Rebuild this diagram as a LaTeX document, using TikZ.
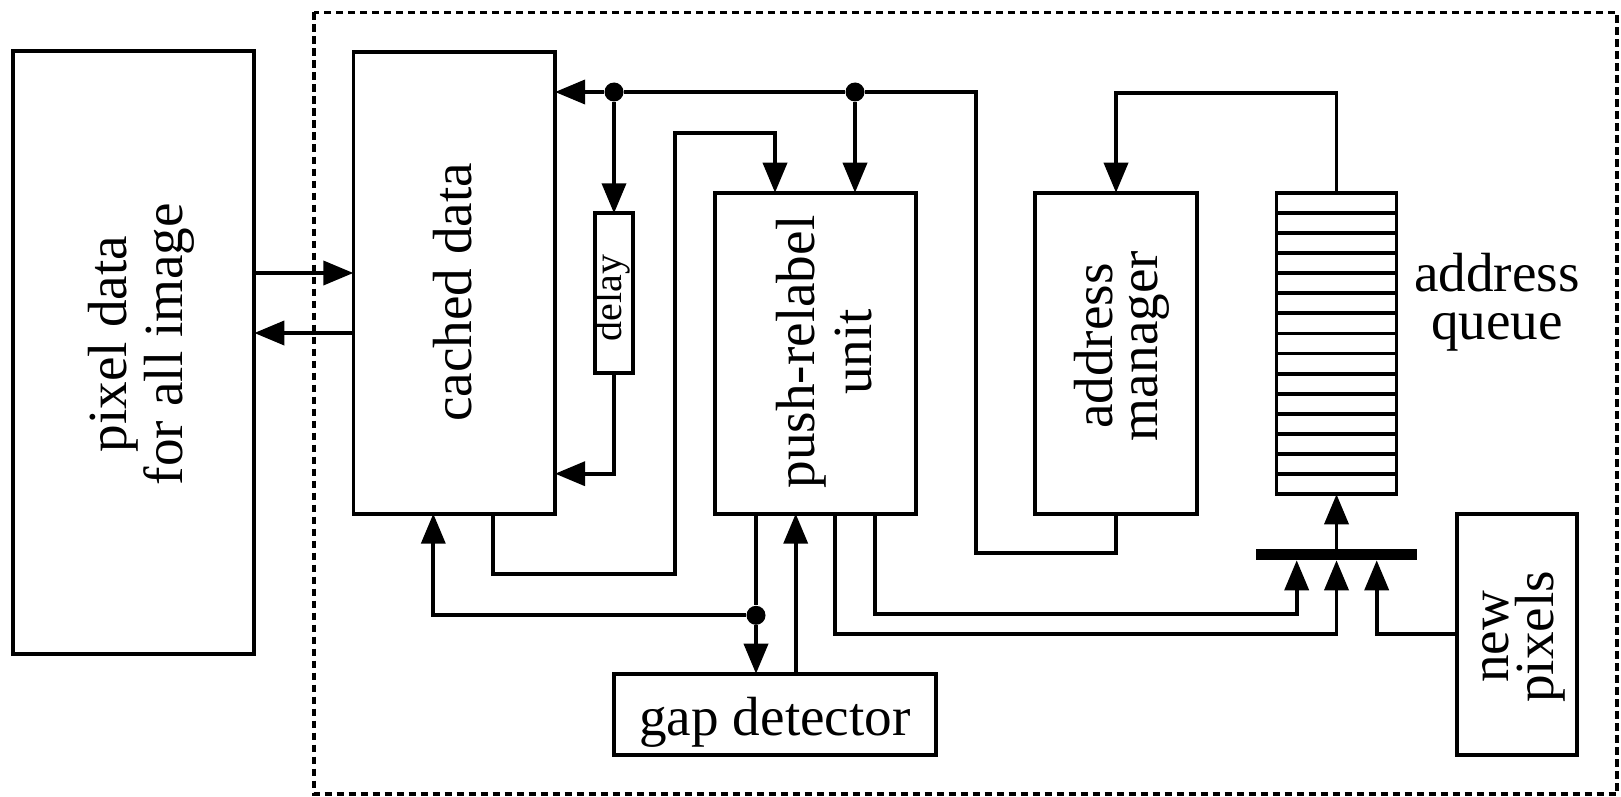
\documentclass[tikz,border=0pt]{standalone}
\usepackage{fontspec}
\setmainfont{Liberation Serif}
\usetikzlibrary{arrows.meta}
\newcommand\lblfont[1]{\fontsize{27.6}{#1}\selectfont}
\begin{document}
\begin{tikzpicture}[x=0.5pt,y=-0.5pt,
  wire/.style={line width=1.85pt},
  arr/.style={wire,-{Triangle[length=15pt,width=12pt]}},
  blk/.style={draw,line width=1.85pt,rectangle,inner sep=0pt,outer sep=0pt},
  lbl/.style={inner sep=0pt,align=center},
  dot/.style={circle,fill,inner sep=0pt,minimum size=9.5pt},
  region/.style={line width=1.8pt,dash pattern=on 3.6pt off 2.4pt}
]
\useasboundingbox (0,0) rectangle (1621,797);
\fill[white] (0,0) rectangle (1621,797);

% dashed boundary of the accelerator
\draw[region] (314,12.5) rectangle (1617,794);

% blocks
\node[blk,minimum width=120.8pt,minimum height=301.5pt] (pix) at (133.5,352.5) {};
\node[blk,minimum width=100.85pt,minimum height=231pt] (cache) at (454.2,282.7) {};
\node[blk,minimum width=19.15pt,minimum height=79.7pt] (delay) at (614,293) {};
\node[blk,minimum width=100.35pt,minimum height=160.5pt] (push) at (815.3,353.2) {};
\node[blk,minimum width=80.85pt,minimum height=160.5pt] (addrmgr) at (1116,353.2) {};
\node[blk,minimum width=60pt,minimum height=150.8pt] (queue) at (1336.5,343.5) {};
\node[blk,minimum width=161pt,minimum height=40.8pt] (gap) at (775,714.5) {};
\node[blk,minimum width=60pt,minimum height=120.8pt] (newpix) at (1516.7,634.5) {};
\node[fill,inner sep=0pt,outer sep=0pt,minimum width=80.35pt,minimum height=5.8pt] (bar) at (1336.5,554.5) {};

% queue slots
\foreach \k in {1,...,14}
  \draw[wire] (queue.north west) ++(0,\k*20.107) -- ++(120,0);

% labels
\node[lbl,rotate=90,font=\lblfont{28}] (pixtxt) at (141,344) {pixel data\\for all image};
\node[lbl,rotate=90,font=\lblfont{28}] (cachetxt) at (453,292.5) {cached data};
\node[lbl,rotate=90,font=\fontsize{20}{22}\selectfont] (delaytxt) at (612,298) {delay};
\node[lbl,rotate=90,font=\lblfont{28.5}] (pushtxt) at (824.5,352) {push-relabel\\unit};
\node[lbl,rotate=90,font=\lblfont{22.5}] (amtxt) at (1121.5,346) {address\\manager};
\node[lbl,font=\lblfont{24}] (qtxt) at (1497,302) {address\\queue};
\node[lbl,font=\lblfont{28}] (gaptxt) at (775,722) {gap detector};
\node[lbl,rotate=90,font=\lblfont{22.5}] (nptxt) at (1524,637) {new\\pixels};

% junctions
\node[dot] (j1) at (614,92) {};
\node[dot] (j2) at (855,92) {};
\node[dot] (j3) at (756,615.3) {};

% bend points
\coordinate (rowA) at (300,273);
\coordinate (rowB) at (300,333);
\coordinate (busLo) at (975.7,553);
\coordinate (dlyturn) at (614,473.7);
\coordinate (lpA) at (493.3,574.3);
\coordinate (lpB) at (675,133.3);
\coordinate (lpC) at (775,133.3);
\coordinate (fbX) at (433.3,615.3);
\coordinate (gX) at (795.7,600);
\coordinate (p1) at (835,634.3);
\coordinate (p2) at (875,614.3);
\coordinate (m1) at (1296.7,614.3);
\coordinate (m3) at (1376.7,634.3);
\coordinate (qTop) at (1116,92.7);

% external memory link
\draw[arr] (pix.east |- rowA) -- (cache.west |- rowA);
\draw[arr] (cache.west |- rowB) -- (pix.east |- rowB);

% write-back bus from the address manager
\draw[wire] (addrmgr.south) |- (busLo) |- (j2);
\draw[wire] (j2) -- (j1);
\draw[arr] (j1) -- (j1 -| cache.east);
\draw[arr] (j1) -- (delay.north);
\draw[arr] (j2) -- (j2 |- push.north);
\draw[arr] (delay.south) -- (dlyturn) -- (dlyturn -| cache.east);

% cached data to push-relabel unit
\draw[arr] (lpA |- cache.south) -- (lpA) -| (lpB) -- (lpC) -- (lpC |- push.north);

% push-relabel unit and gap detector
\draw[wire] (push.south -| j3) -- (j3);
\draw[arr] (j3) -- (j3 |- gap.north);
\draw[arr] (j3) -- (fbX) -- (fbX |- cache.south);
\draw[arr] (gX |- gap.north) -- (gX |- push.south);

% inputs of the selector
\draw[arr] (p1 |- push.south) -- (p1) -| (bar.south);
\draw[arr] (p2 |- push.south) -- (p2) -- (m1) -- (m1 |- bar.south);
\draw[arr] (newpix.west |- m3) -- (m3) -- (m3 |- bar.south);

% selector to queue, queue to address manager
\draw[arr] (bar.north) -- (queue.south);
\draw[arr] (queue.north) |- (qTop) -- (addrmgr.north);
\end{tikzpicture}
\end{document}
